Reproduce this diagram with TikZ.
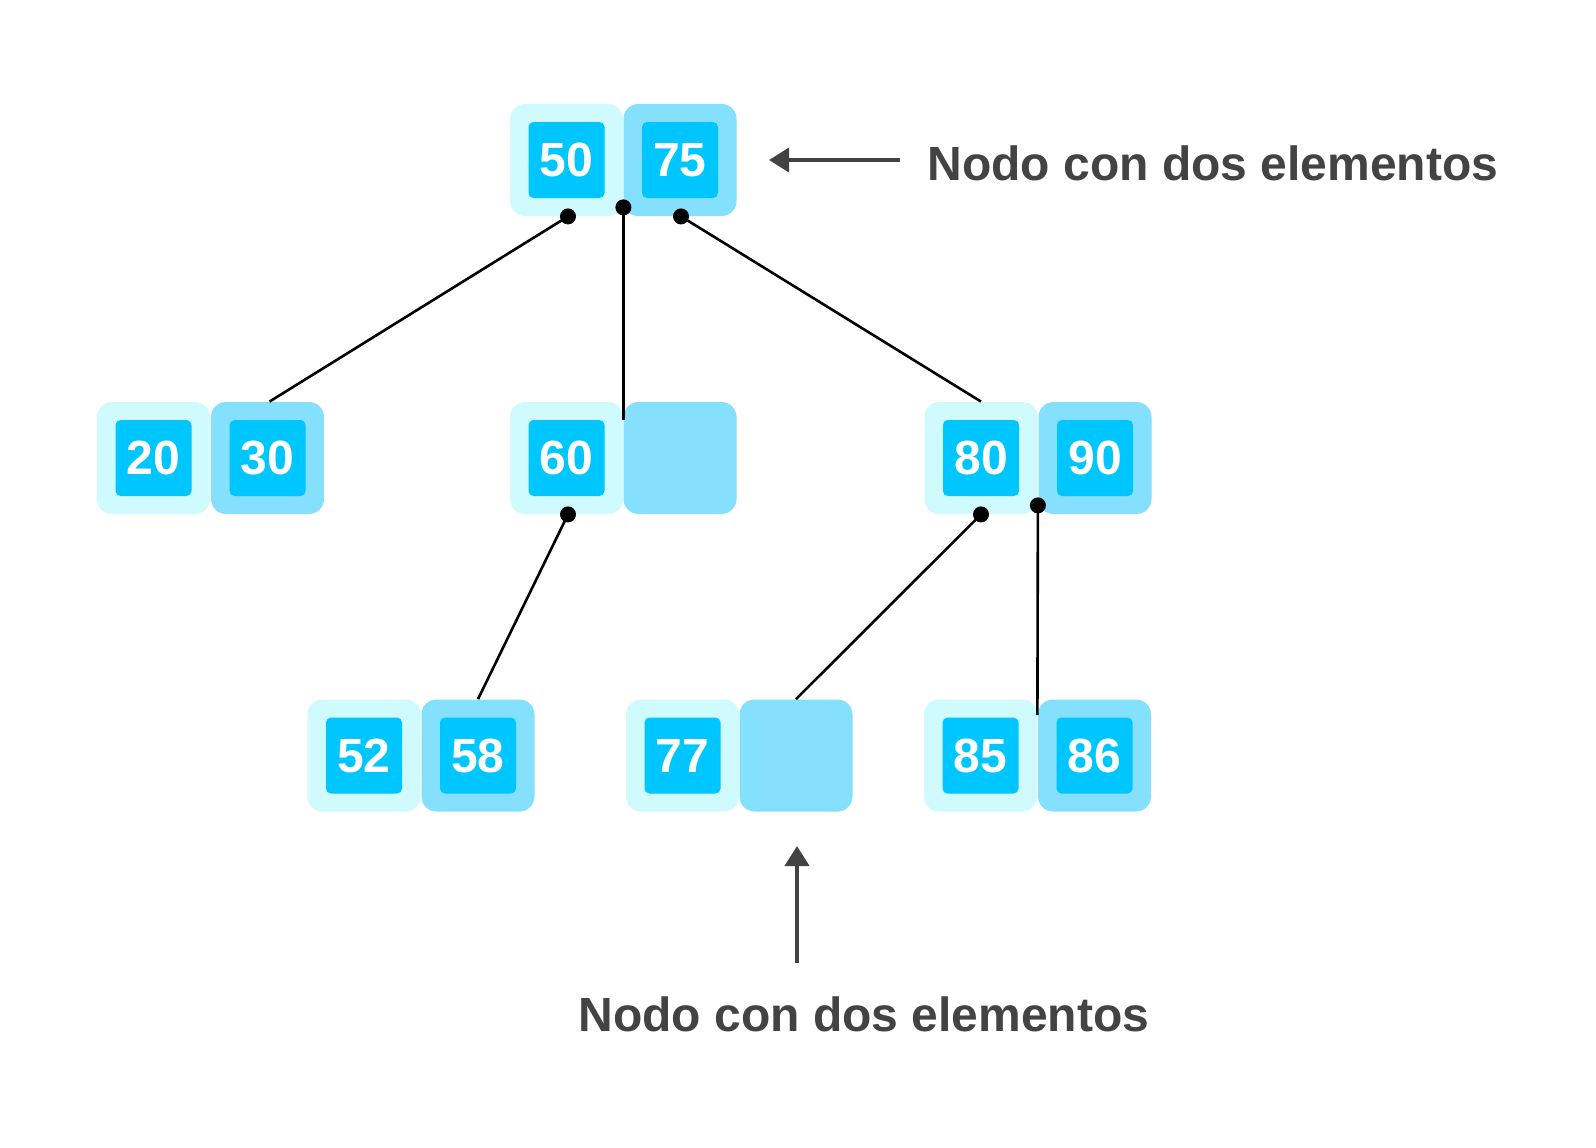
\documentclass[tikz,border=0pt]{standalone}
\usepackage{fontspec}
\setmainfont{Liberation Sans}
\usetikzlibrary{arrows.meta}
\definecolor{cellL}{HTML}{CFFAFE}
\definecolor{cellD}{HTML}{84E0FC}
\definecolor{cellIn}{HTML}{00C6FF}
\definecolor{labelgray}{HTML}{434343}
\begin{document}
\begin{tikzpicture}[x=0.5pt,y=-0.5pt,
  cell/.style={minimum width=56.5pt, minimum height=56pt, inner sep=0pt, rounded corners=7.5pt, draw=none},
  lightcell/.style={cell, fill=cellL},
  darkcell/.style={cell, fill=cellD},
  key/.style={minimum size=38pt, inner sep=0pt, rounded corners=2.5pt, fill=cellIn, text=white, font=\fontsize{24}{24}\selectfont\bfseries},
  link/.style={line width=1.3pt, draw=black},
  dot/.style={circle, fill=black, inner sep=0pt, minimum size=8pt},
  note/.style={inner sep=0pt, font=\fontsize{24}{24}\selectfont\bfseries, text=labelgray},
  pointer/.style={line width=2pt, draw=labelgray, -{Triangle[length=10pt,width=12pt]}}]
\useasboundingbox (0,0) rectangle (1596,1147);
\fill[white] (0,0) rectangle (1596,1147);

% level 1
\node[lightcell] (c50) at (566.5,160) {};
\node[darkcell]  (c75) at (680,160) {};
\node[key] (k50) at (c50) {50};
\node[key] (k75) at (c75) {75};

% level 2
\node[lightcell] (c20) at (153.5,458) {};
\node[darkcell]  (c30) at (267.5,458) {};
\node[key] (k20) at (c20) {20};
\node[key] (k30) at (c30) {30};

\node[lightcell] (c60) at (566.5,458) {};
\node[darkcell]  (e2) at (680,458) {};
\node[key] (k60) at (c60) {60};

\node[lightcell] (c80) at (981,458) {};
\node[darkcell]  (c90) at (1095,458) {};
\node[key] (k80) at (c80) {80};
\node[key] (k90) at (c90) {90};

% level 3
\node[lightcell] (c52) at (364,755.5) {};
\node[darkcell]  (c58) at (478,755.5) {};
\node[key] (k52) at (c52) {52};
\node[key] (k58) at (c58) {58};

\node[lightcell] (c77) at (682.5,755.5) {};
\node[darkcell]  (e3) at (796,755.5) {};
\node[key] (k77) at (c77) {77};

\node[lightcell] (c85) at (980.5,755.5) {};
\node[darkcell]  (c86) at (1094.5,755.5) {};
\node[key] (k85) at (c85) {85};
\node[key] (k86) at (c86) {86};

% connection points
\coordinate (p50) at ([xshift=0.75pt]c50.south);
\coordinate (pmid) at ([yshift=4.5pt]c50.south east);
\coordinate (p75) at ([xshift=0.5pt]c75.south);
\coordinate (p60) at ([xshift=0.75pt]c60.south);
\coordinate (p80) at (c80.south);
\coordinate (p90) at ([yshift=4.5pt]c80.south east);
\coordinate (m60) at ([yshift=-9pt]c60.north east);
\coordinate (m86) at ([yshift=-8pt]c85.north east);

% links
\draw[link] (p50) -- ([xshift=1pt]c30.north);
\draw[link] (pmid) -- (m60);
\draw[link] (p75) -- (c80.north);
\draw[link] (p60) -- (c58.north);
\draw[link] (p80) -- (e3.north);
\draw[link] (p90) -- (m86);

\node[dot] (d50) at (p50) {};
\node[dot] (dmid) at (pmid) {};
\node[dot] (d75) at (p75) {};
\node[dot] (d60) at (p60) {};
\node[dot] (d80) at (p80) {};
\node[dot] (d90) at (p90) {};

% annotations
\node[note, anchor=base west] (n1) at (927,180) {Nodo con dos elementos};
\coordinate (a1from) at (900,160);
\coordinate (a1to) at (769,160);
\draw[pointer] (a1from) -- (a1to);

\node[note, anchor=base west] (n2) at (578,1031) {Nodo con dos elementos};
\coordinate (a2from) at (797,963);
\coordinate (a2to) at (797,846);
\draw[pointer] (a2from) -- (a2to);
\end{tikzpicture}
\end{document}
